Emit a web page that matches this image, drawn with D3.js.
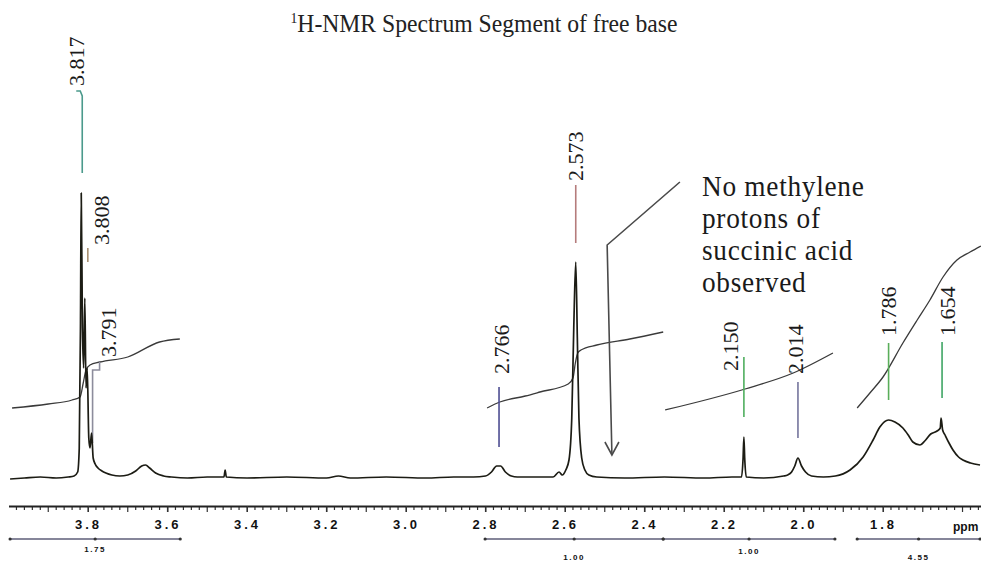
<!DOCTYPE html>
<html><head><meta charset="utf-8">
<script src="https://cdn.jsdelivr.net/npm/d3@7"></script>
<style>body{margin:0;background:#fff}svg{display:block}</style>
</head><body><svg id="c" width="981" height="561"></svg>
<script>
// ---------------- data ----------------
const titleSup = "1";
const titleMain = "H-NMR Spectrum Segment of free base";

// spectrum trace [ppm, intensity]
const spectrum = [
 [3.996,-1],[3.96,0],[3.92,1],[3.88,0],[3.85,1],[3.835,2],[3.826,6],[3.822,30],[3.819,150],[3.817,285],
 [3.814,150],[3.811,110],[3.808,180],[3.805,90],[3.802,110],[3.798,40],[3.795,30],[3.791,45],[3.787,20],
 [3.782,14],[3.775,10],[3.765,7],[3.755,5],[3.74,3],[3.72,2],[3.70,3],[3.68,7],[3.665,12],[3.655,13],
 [3.645,10],[3.63,5],[3.61,2],[3.59,1],[3.55,0],[3.50,1],[3.47,1],[3.458,1],[3.455,8],[3.452,1],[3.40,0],
 [3.30,1],[3.20,0],[3.17,2],[3.14,0],[3.05,1],[2.95,0],[2.88,1],[2.83,1],[2.80,2],[2.785,6],[2.772,12],
 [2.762,12],[2.75,6],[2.735,2],[2.72,1],[2.68,1],[2.63,1],[2.615,6],[2.607,3],[2.598,8],[2.59,18],
 [2.583,60],[2.578,150],[2.573,216],[2.569,140],[2.565,60],[2.558,20],[2.55,8],[2.54,3],[2.52,1],
 [2.45,0],[2.35,1],[2.25,0],[2.18,1],[2.156,1],[2.152,20],[2.150,41],[2.148,20],[2.144,1],[2.10,0],
 [2.05,2],[2.04,3],[2.03,6],[2.022,12],[2.014,20],[2.005,12],[1.995,6],[1.98,2],[1.95,1],[1.92,2],
 [1.883,8],[1.85,21],[1.825,38],[1.808,51],[1.786,58],[1.77,56],[1.75,50],[1.735,42],[1.725,36],
 [1.707,33],[1.695,37],[1.68,44],[1.664,47],[1.656,50],[1.654,60],[1.650,48],[1.644,43],[1.634,35],
 [1.624,28],[1.61,21],[1.599,18],[1.58,15],[1.556,13]
];

// integral curves [ppm, intensity]
const integral1 = [[3.991,70],[3.90,74],[3.84,78],[3.820,81],[3.812,95],[3.805,108],[3.795,113],[3.77,116],[3.70,121],[3.62,136],[3.569,139]];
const integral2 = [[2.796,70],[2.764,76],[2.70,82],[2.663,86],[2.592,94],[2.580,100],[2.574,115],[2.568,125],[2.560,128],[2.520,133],[2.437,139],[2.353,146]];
const integral3 = [[2.348,68],[2.147,89],[2.026,105],[1.926,125]];
const integral4 = [[1.865,70],[1.833,85],[1.800,101],[1.750,135],[1.714,158],[1.682,178],[1.649,201],[1.614,218],[1.581,226],[1.554,232]];

// peak picks
const peakPpm    = [3.817, 3.808, 3.791, 2.766, 2.573, 2.150, 2.014, 1.786, 1.654];
const peakLabels = ["3.817","3.808","3.791","2.766","2.573","2.150","2.014","1.786","1.654"];
// leader ends in intensity units [top, bottom], label start in intensity units
const leaderTop    = [387, 230, 116, 91, 293, 121, 96, 135, 136];
const leaderBottom = [305, 216, 35, 31, 235, 61, 40, 78, 80];
const labelStart   = [392, 233, 121, 104, 297, 107, 104, 142, 142];

// axis
const tickValues = [3.8, 3.6, 3.4, 3.2, 3.0, 2.8, 2.6, 2.4, 2.2, 2.0, 1.8];
const tickLabels = ["3.8","3.6","3.4","3.2","3.0","2.8","2.6","2.4","2.2","2.0","1.8"];
const unitLabel = "ppm";

// integration ranges
const integralRanges = [[3.996,3.568],[2.801,2.353],[2.353,1.921],[1.865,1.556]];
const integralLabels = ["1.75","1.00","1.00","4.55"];

// annotation
const noteLines = ["No methylene","protons of","succinic acid","observed"];
const arrowPath = [[2.311,296],[2.494,233],[2.482,23]];

// ---------------- layout / style ----------------
const squeeze = 0.91;
const leaderColors = ["#4b9a8c","#a88f72","#8c8c9c","#4d4d92","#b57c7c","#4fae5e","#74749c","#5aae5a","#3ea564"];
const labelDx = [-4, 18, 18, 3, 1, -13, -2, 1, 7];
const leaderDx = [1, 3, 1, 0, 0, 0, 0, 0, 1];
const integralLabelY = [552, 560, 554, 560];

const svg = d3.select("#c");
const x = d3.scaleLinear().domain([4.0, 1.55]).range([8.5, 982.4]);
const y = d3.scaleLinear().domain([0, 300]).range([478, 178]);

// title
const t = svg.append("text")
  .attr("transform", `translate(484,32) scale(${squeeze},1)`)
  .attr("text-anchor","middle")
  .attr("font-family","'Liberation Serif', serif")
  .attr("font-size", 26).attr("fill","#222");
t.append("tspan").attr("font-size",15).attr("dy",-9).text(titleSup);
t.append("tspan").attr("dy",9).text(titleMain);

// integral curves
const line = d3.line().x(d => x(d[0])).y(d => y(d[1])).curve(d3.curveMonotoneX);
[integral1, integral2, integral3, integral4].forEach(seg => {
  svg.append("path").attr("d", line(seg))
    .attr("fill","none").attr("stroke","#3a3a3a").attr("stroke-width",1.3);
});

// peak leaders
peakPpm.forEach((p, i) => {
  const px = x(p) + leaderDx[i];
  let d;
  if (i === 0) {
    d = `M${px-6},${y(leaderTop[i])} H${px-2} L${px},${y(leaderTop[i])+5} V${y(leaderBottom[i])}`;
  } else if (i === 2) {
    d = `M${px+7},${y(leaderTop[i])} V${y(leaderTop[i])+8} H${px} V${y(leaderBottom[i])}`;
  } else {
    d = `M${px},${y(leaderTop[i])} V${y(leaderBottom[i])}`;
  }
  svg.append("path").attr("d", d).attr("fill","none")
    .attr("stroke", leaderColors[i]).attr("stroke-width", 1.6);
  svg.append("text")
    .attr("transform", `translate(${x(p) + labelDx[i]},${y(labelStart[i])}) scale(${squeeze},1) rotate(-90)`)
    .attr("dy","0.33em")
    .attr("font-family","'Liberation Serif', serif").attr("font-size",22).attr("fill","#1a1a1a")
    .text(peakLabels[i]);
});

// spectrum
svg.append("path").attr("d", line(spectrum))
  .attr("fill","none").attr("stroke","#1c1c14").attr("stroke-width",1.7).attr("stroke-linejoin","round");

// arrow annotation
const ap = arrowPath.map(d => [x(d[0]), y(d[1])]);
svg.append("path").attr("d", d3.line()(ap)).attr("fill","none").attr("stroke","#4a4a4a").attr("stroke-width",1.6);
const tip = ap[2];
svg.append("path").attr("d", `M${tip[0]-7},${tip[1]-13} L${tip[0]},${tip[1]} L${tip[0]+7},${tip[1]-13}`)
  .attr("fill","none").attr("stroke","#4a4a4a").attr("stroke-width",1.6);

// note text
const note = svg.append("g").attr("transform", `translate(702,196) scale(${squeeze},1)`);
noteLines.forEach((s, i) => {
  note.append("text").attr("x",0).attr("y", i*32)
    .attr("font-family","'Liberation Serif', serif").attr("font-size",30)
    .attr("letter-spacing",0.8).attr("fill","#1a1a1a").text(s);
});

// axis
const axisY = 506;
const minor = d3.range(1.56, 4.0, 0.02).map(v => +v.toFixed(2));
const gMinor = svg.append("g").attr("transform",`translate(0,${axisY})`);
gMinor.selectAll("line").data(minor).join("line")
  .attr("x1", d => x(d)).attr("x2", d => x(d)).attr("y1", 0)
  .attr("y2", d => (Math.round(d*100) % 10 === 0) ? 6 : 4)
  .attr("stroke","#333").attr("stroke-width",1.2);
const axis = d3.axisBottom(x).tickValues(tickValues).tickFormat((d,i) => tickLabels[i]).tickSize(6).tickSizeOuter(0);
const gAxis = svg.append("g").attr("transform",`translate(0,${axisY})`).call(axis);
gAxis.select(".domain").attr("stroke","#222").attr("stroke-width",2);
gAxis.selectAll(".tick line").attr("stroke","#333");
gAxis.selectAll(".tick text").attr("font-family","'Liberation Sans', sans-serif").attr("font-weight","bold")
  .attr("font-size",13).attr("letter-spacing",3).attr("fill","#111").attr("y",14);
svg.append("text").attr("x", 953).attr("y", axisY+25)
  .attr("font-family","'Liberation Sans', sans-serif").attr("font-weight","bold")
  .attr("font-size",12).attr("fill","#111").text(unitLabel);

// integration bars
const barY = 539;
integralRanges.forEach((r, i) => {
  const x0 = x(r[0]), x1 = x(r[1]), xm = (x0 + x1) / 2;
  svg.append("line").attr("x1",x0).attr("x2",x1).attr("y1",barY).attr("y2",barY)
    .attr("stroke","#5e5e78").attr("stroke-width",1.3);
  [x0, xm, x1].forEach(cx => svg.append("circle").attr("cx",cx).attr("cy",barY).attr("r",1.6).attr("fill","#333"));
  svg.append("text").attr("x", xm).attr("y", integralLabelY[i])
    .attr("text-anchor","middle")
    .attr("font-family","'Liberation Sans', sans-serif").attr("font-weight","bold")
    .attr("font-size",8).attr("letter-spacing",1.5).attr("fill","#111").text(integralLabels[i]);
});
</script></body></html>
